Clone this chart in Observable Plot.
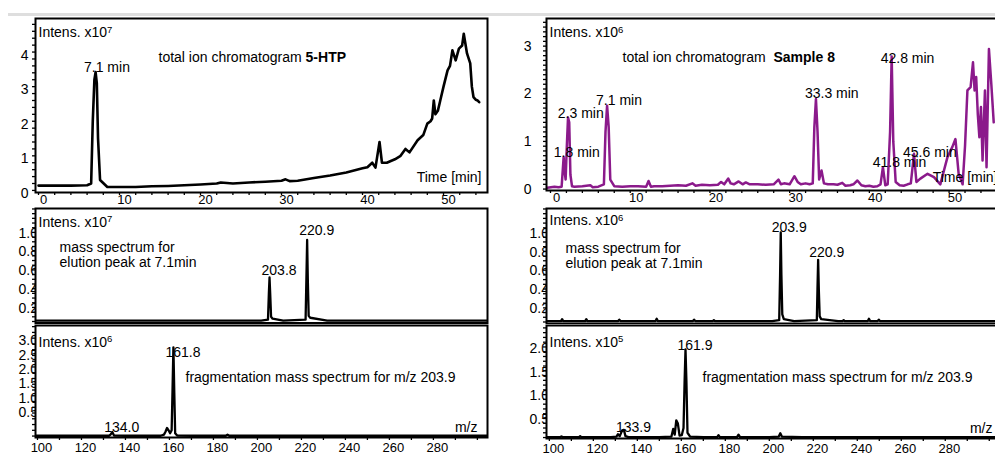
<!DOCTYPE html>
<html><head><meta charset="utf-8">
<script src="https://cdn.jsdelivr.net/npm/d3@7"></script>
<script src="https://cdn.jsdelivr.net/npm/@observablehq/plot@0.6"></script>
<style>
html,body{margin:0;padding:0;background:#fff;overflow:hidden;}
#wrap{position:relative;width:995px;height:459px;overflow:hidden;}
#wrap svg{position:absolute;}
#bar{position:absolute;left:8px;top:13px;width:987px;height:3px;background:#dedede;z-index:5;}
</style></head><body><div id="wrap"><div id="bar"></div></div>
<script>
// ---------- Data ----------
// Top-left: total ion chromatogram 5-HTP (Intens. x10^7 vs time, min)
const tlTime = [0,2,4,6,6.5,6.7,6.9,7.05,7.2,7.35,7.6,8.5,10,12,14,16,18,20,22,22.5,24,26,28,30,30.5,31,32,34,36,38,40,40.6,41.2,41.6,42.1,42.4,43,44,44.7,45.3,45.8,46.8,47.5,48,48.4,48.6,48.8,49.0,49.3,49.6,50.0,50.5,50.8,51.1,51.5,51.9,52.3,52.5,52.9,53.3,53.5,53.7,54.0,54.2,54.4];
const tlInt  = [0.14,0.14,0.14,0.15,0.2,2.0,3.2,3.42,3.1,1.5,0.3,0.1,0.1,0.1,0.12,0.13,0.15,0.17,0.2,0.23,0.2,0.23,0.25,0.28,0.32,0.27,0.28,0.36,0.43,0.52,0.64,0.67,0.8,0.66,1.4,0.8,0.8,0.9,1.0,1.2,1.1,1.45,1.6,1.93,2.0,2.08,2.6,2.2,2.3,2.6,3.0,3.47,3.6,4.05,3.76,4.1,4.19,4.53,3.96,3.67,3.0,2.7,2.62,2.6,2.55];
const tlLabels = ["7.1 min"], tlLabelT = [7.1], tlLabelY = [3.56];

// Top-right: total ion chromatogram Sample 8 (Intens. x10^6)
const trTime = [-0.4,0.5,1.0,1.4,1.65,1.75,1.9,2.05,2.2,2.35,2.5,2.7,3,4,5,5.3,6,6.7,6.9,7.1,7.3,7.5,8,9,10,11,12,12.3,12.6,13,14,15,16,17,17.8,18.2,19,20,21,21.4,21.8,22.3,22.6,23,23.6,24.1,24.5,25,26,27,28,28.6,28.9,29.3,30,30.6,31,31.4,32,32.5,32.9,33.1,33.3,33.5,33.7,34.0,34.3,34.8,35.5,36,36.6,37,37.6,38,38.5,39,39.5,40,40.5,41,41.4,41.7,42.0,42.3,42.6,42.8,43.0,43.3,43.8,44.3,44.8,45.2,45.6,45.9,46.4,47.3,48.1,48.9,49.8,50.4,50.8,51.2,51.7,52.0,52.3,52.7,53.0,53.2,53.4,53.6,53.8,54.0,54.2,54.5,54.7,55.0,55.3,55.6];
const trInt  = [0.03,0.05,0.04,0.05,0.67,0.4,0.2,0.9,1.5,1.4,0.3,0.06,0.05,0.06,0.08,0.04,0.05,0.1,1.2,1.75,1.3,0.2,0.06,0.05,0.06,0.06,0.05,0.17,0.05,0.06,0.06,0.07,0.08,0.07,0.12,0.07,0.09,0.08,0.09,0.15,0.1,0.22,0.12,0.1,0.16,0.1,0.14,0.1,0.1,0.09,0.1,0.2,0.1,0.12,0.1,0.27,0.15,0.1,0.12,0.1,0.12,1.3,1.89,1.2,0.2,0.39,0.12,0.1,0.1,0.09,0.13,0.07,0.08,0.1,0.18,0.08,0.06,0.07,0.05,0.06,0.1,0.46,0.08,0.1,1.2,2.78,1.0,0.15,0.08,0.07,0.1,0.12,0.74,0.15,0.22,0.32,0.25,0.1,0.67,0.88,1.05,0.32,0.1,0.9,2.07,2.14,2.66,2.07,2.35,1.58,1.09,1.72,0.6,2.07,0.46,2.94,2.2,1.4];
const trLabels = ["1.8 min","2.3 min","7.1 min","33.3 min","41.8 min","42.8 min","45.6 min"];
const trLabelT = [1.8,2.3,7.1,33.3,41.8,42.8,45.6];
const trLabelY = [0.77,1.59,1.86,2.01,0.56,2.74,0.77];

// Middle-left: mass spectrum 5-HTP (Intens. x10^7 vs m/z)
const mlMz  = [97.5,120,150,180,200,203.1,203.5,203.8,204.1,204.5,205.2,210,220.2,220.6,220.9,221.2,221.6,222.3,230,260,303];
const mlInt = [0.01,0.01,0.01,0.01,0.01,0.02,0.3,0.47,0.3,0.05,0.03,0.01,0.02,0.5,0.87,0.45,0.06,0.04,0.01,0.01,0.01];
const mlLabels = ["203.8","220.9"], mlLabelMz = [203.8,220.9], mlLabelY = [0.54,0.97];

// Middle-right: mass spectrum Sample 8 (Intens. x10^6)
const mrMz  = [97.5,104,104.5,105,115,115.5,116,130,130.5,131,147,147.5,148,164,164.5,165,173,173.5,174,200,203.2,203.6,203.9,204.2,204.6,205.3,210,220.3,220.6,220.9,221.2,221.6,222.3,230,232,232.5,233,243.5,244,244.5,248,248.5,249,303];
const mrInt = [0.01,0.01,0.03,0.01,0.01,0.03,0.01,0.01,0.025,0.01,0.01,0.035,0.01,0.01,0.025,0.01,0.01,0.02,0.01,0.01,0.02,0.5,0.95,0.5,0.08,0.03,0.01,0.02,0.35,0.66,0.35,0.06,0.03,0.01,0.01,0.02,0.01,0.01,0.035,0.01,0.01,0.025,0.01,0.01];
const mrLabels = ["203.9","220.9"], mrLabelMz = [203.9,220.9], mrLabelY = [1.0,0.74];

// Bottom-left: fragmentation spectrum 5-HTP (Intens. x10^6)
const blMz  = [99.3,120,132.5,133.2,134.0,134.8,140,156,157.5,158.2,158.9,159.6,160.3,161.0,161.4,161.8,162.2,162.6,163.5,170,185.6,186.4,187.2,200,305];
const blInt = [0.01,0.01,0.01,0.05,0.14,0.02,0.01,0.01,0.05,0.15,0.28,0.2,0.1,0.2,1.6,3.08,1.5,0.1,0.02,0.01,0.01,0.05,0.01,0.01,0.01];
const blLabels = ["134.0","161.8"], blLabelMz = [134.0,161.8], blLabelY = [0.31,2.91];

// Bottom-right: fragmentation spectrum Sample 8 (Intens. x10^5)
const brMz  = [98.7,105,105.5,106,113.5,114,114.5,128,130.5,131.2,132,133.1,133.9,134.6,136,150,155.5,156.3,157.0,157.7,158.4,159.2,160.2,161.0,161.5,161.9,162.3,162.8,164,170,176.3,176.9,177.5,185.3,186,186.7,200,204.3,205,205.7,215,304];
const brInt = [0.01,0.01,0.025,0.01,0.01,0.03,0.01,0.01,0.02,0.07,0.03,0.15,0.16,0.03,0.01,0.01,0.02,0.18,0.06,0.36,0.3,0.04,0.05,0.2,1.2,1.85,1.2,0.1,0.02,0.01,0.01,0.05,0.01,0.01,0.06,0.01,0.01,0.02,0.09,0.02,0.01,0.01];
const brLabels = ["133.9","161.9"], brLabelMz = [133.9,161.9], brLabelY = [0.22,1.93];

// Tick labels
const timeTicks = [0,10,20,30,40,50];
const mzTicks = [100,120,140,160,180,200,220,240,260,280];
const tlYTicks = [0,1,2,3,4];
const trYTicks = [0,1,2,3];
const msYTicks = [0.2,0.4,0.6,0.8,1.0];
const blYTicks = [0.5,1.0,1.5,2.0,2.5,3.0];
const brYTicks = [0.5,1.0,1.5,2.0];

// ---------- Rendering ----------
const FONT = '"Liberation Sans", Arial, Helvetica, sans-serif';
const wrap = document.getElementById("wrap");
const zip = (a, b) => a.map((x, i) => ({x, y: b[i]}));
const labs = (t, x, y) => t.map((s, i) => ({s, x: x[i], y: y[i]}));

function richText(svg) {
  d3.select(svg).selectAll("text, tspan").each(function () {
    if (this.children.length) return;
    const s = this.textContent;
    if (!/\*\*|\^/.test(s)) return;
    this.textContent = "";
    s.split(/(\*\*[^*]+\*\*|\^\d+)/).filter(Boolean).forEach(p => {
      const t = document.createElementNS("http://www.w3.org/2000/svg", "tspan");
      if (p.startsWith("**")) { t.textContent = p.slice(2, -2); t.setAttribute("font-weight", "bold"); }
      else if (p.startsWith("^")) { t.textContent = p.slice(1); t.setAttribute("font-size", "0.68em"); t.setAttribute("dy", "-0.5em"); }
      else t.textContent = p;
      this.appendChild(t);
    });
  });
}

function panel(o) {
  const marks = [];
  // y tick labels and minor ticks
  marks.push(Plot.axisY({ticks: o.yTicks, tickSize: 0, tickPadding: o.yPad, dx: o.yDx || 0, dy: o.yDy, tickFormat: o.yFmt, fontSize: o.yFs || 13, label: null}));
  marks.push(Plot.axisY({ticks: o.yMinor, tickSize: 3, tickFormat: () => "", strokeWidth: 1.3, label: null}));
  if (o.xTicks) {
    marks.push(Plot.axisX({ticks: o.xTicks, tickSize: 0, tickPadding: o.xPad, dx: o.xDx, tickFormat: d => String(d), fontSize: 13, label: null}));
    marks.push(Plot.axisX({ticks: o.xMinor, tickSize: 3, tickFormat: () => "", strokeWidth: 1.3, label: null}));
  }
  marks.push(Plot.frame({fill: "white", stroke: "none"}));
  marks.push(Plot.line(o.data, {x: "x", y: "y", stroke: o.color, strokeWidth: o.lw, strokeLinejoin: "round", clip: true}));
  marks.push(Plot.text(o.labels, {x: "x", y: "y", text: "s", textAnchor: "start", dx: o.labDx, lineAnchor: "middle", fontSize: 14}));
  o.texts.forEach(t => marks.push(Plot.text([t.s], {text: d => d, frameAnchor: t.fa, textAnchor: t.ta || "start", lineAnchor: "middle", dx: t.dx, dy: t.dy, fontSize: 14, lineHeight: 1.08})));
  marks.push(Plot.frame({stroke: "black", strokeWidth: 2}));
  const svg = Plot.plot({
    width: o.w, height: o.h,
    marginLeft: o.mL, marginRight: o.mR, marginTop: o.mT, marginBottom: o.mB,
    x: {domain: o.xDomain, axis: o.xTicks ? undefined : null, label: null},
    y: {domain: o.yDomain, label: null},
    style: {fontFamily: FONT, fontSize: "13px", background: "white", color: "black", overflow: "visible"},
    marks
  });
  richText(svg);
  svg.style.left = o.left + "px";
  svg.style.top = o.top + "px";
  svg.style.maxWidth = "none";
  wrap.appendChild(svg);
}

const range = (a, b, s) => d3.range(a, b + s / 2, s).map(v => +v.toFixed(3));

// Top row
panel({left: 0, top: 0, w: 490, h: 212, mL: 35, mR: 3, mT: 18, mB: 20,
  xDomain: [-0.37, 55.43], yDomain: [-0.06, 4.97],
  yTicks: tlYTicks, yMinor: range(0, 4.8, 0.2), yPad: 7, yDy: 3, yFmt: d => String(d), yFs: 14,
  xTicks: timeTicks, xMinor: range(0, 54, 2), xPad: 2, xDx: 5,
  data: zip(tlTime, tlInt), color: "black", lw: 2.6,
  labels: labs(tlLabels, tlLabelT, tlLabelY), labDx: -12,
  texts: [
    {s: "Intens. x10^7", fa: "top-left", dx: 3, dy: 14},
    {s: "total ion chromatogram **5-HTP**", fa: "top-left", dx: 123, dy: 38.7},
    {s: "Time [min]", fa: "bottom-right", ta: "end", dx: -6, dy: -15}
  ]});
panel({left: 505, top: 0, w: 500, h: 212, mL: 41, mR: 7, mT: 18, mB: 22,
  xDomain: [-0.5, 56.2], yDomain: [-0.03, 3.58],
  yTicks: trYTicks, yMinor: range(0, 3.5, 0.1), yPad: 15, yDy: 0, yFmt: d => String(d), yFs: 14,
  xTicks: timeTicks, xMinor: range(0, 56, 2), xPad: 2, xDx: 6,
  data: zip(trTime, trInt), color: "#8b1a8b", lw: 2.5,
  labels: labs(trLabels, trLabelT, trLabelY), labDx: -11,
  texts: [
    {s: "Intens. x10^6", fa: "top-left", dx: 3, dy: 14},
    {s: "total ion chromatogram  **Sample 8**", fa: "top-left", dx: 76, dy: 38.7},
    {s: "Time [min]", fa: "bottom-right", ta: "end", dx: -1, dy: -13}
  ]});

// Middle row
panel({left: 0, top: 204, w: 490, h: 120, mL: 35, mR: 3, mT: 4, mB: 1.5,
  xDomain: [97.4, 302.9], yDomain: [-0.016, 1.205],
  yTicks: msYTicks, yMinor: range(0, 1.2, 0.05), yPad: 0, yDx: 2.5, yDy: 5.5, yFmt: ".1f", yFs: 14,
  data: zip(mlMz, mlInt), color: "black", lw: 2.3,
  labels: labs(mlLabels, mlLabelMz, mlLabelY), labDx: -8,
  texts: [
    {s: "Intens. x10^7", fa: "top-left", dx: 3, dy: 13.7},
    {s: "mass spectrum for\nelution peak at 7.1min", fa: "top-left", dx: 24, dy: 46.2}
  ]});
panel({left: 505, top: 204, w: 500, h: 120, mL: 41, mR: 7, mT: 4, mB: 1,
  xDomain: [97.4, 302.9], yDomain: [-0.016, 1.205],
  yTicks: msYTicks, yMinor: range(0, 1.2, 0.05), yPad: 0, yDx: 2.5, yDy: 5.5, yFmt: ".1f", yFs: 14,
  data: zip(mrMz, mrInt), color: "black", lw: 2.3,
  labels: labs(mrLabels, mrLabelMz, mrLabelY), labDx: -9,
  texts: [
    {s: "Intens. x10^6", fa: "top-left", dx: 3, dy: 12},
    {s: "mass spectrum for\nelution peak at 7.1min", fa: "top-left", dx: 19, dy: 46.8}
  ]});

// Bottom row
panel({left: 0, top: 324, w: 490, h: 135, mL: 35, mR: 3, mT: 1, mB: 22,
  xDomain: [99.1, 304.6], yDomain: [-0.05, 3.84],
  yTicks: blYTicks, yMinor: range(0, 3.8, 0.2), yPad: 0, yDx: 2.5, yDy: -9, yFmt: ".1f", yFs: 14,
  xTicks: mzTicks, xMinor: range(100, 300, 10), xPad: 5, xDx: 4,
  data: zip(blMz, blInt), color: "black", lw: 2.3,
  labels: labs(blLabels, blLabelMz, blLabelY), labDx: -8,
  texts: [
    {s: "Intens. x10^6", fa: "top-left", dx: 3, dy: 16.7},
    {s: "fragmentation mass spectrum for m/z 203.9", fa: "top-left", dx: 150, dy: 51.7},
    {s: "m/z", fa: "bottom-right", ta: "end", dx: -10, dy: -10}
  ]});
panel({left: 505, top: 324, w: 500, h: 135, mL: 41, mR: 7, mT: 1, mB: 21,
  xDomain: [98.7, 304.2], yDomain: [-0.02, 2.35],
  yTicks: brYTicks, yMinor: range(0, 2.3, 0.1), yPad: 0, yDx: 2.5, yDy: 6, yFmt: ".1f", yFs: 14,
  xTicks: mzTicks, xMinor: range(100, 300, 10), xPad: 5, xDx: 4,
  data: zip(brMz, brInt), color: "black", lw: 2.3,
  labels: labs(brLabels, brLabelMz, brLabelY), labDx: -8,
  texts: [
    {s: "Intens. x10^5", fa: "top-left", dx: 3, dy: 16.7},
    {s: "fragmentation mass spectrum for m/z 203.9", fa: "top-left", dx: 156, dy: 51.7},
    {s: "m/z", fa: "bottom-right", ta: "end", dx: -6, dy: -10}
  ]});
</script></body></html>
